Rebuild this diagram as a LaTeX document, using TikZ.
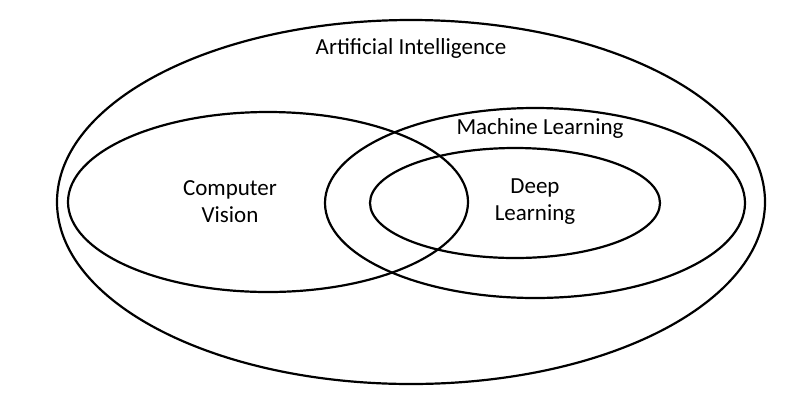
\documentclass[tikz,border=0pt]{standalone}
\usepackage{fontspec}
\setmainfont{Carlito}
\begin{document}
\begin{tikzpicture}[x=1pt,y=-1pt,
  ring/.style={draw=black,line width=2.2pt},
  lbl/.style={font=\fontsize{23}{27}\selectfont,align=center}]
\useasboundingbox (0,0) rectangle (800,400);
\draw[ring] (411,202) ellipse [x radius=354,y radius=182];
\draw[ring] (268,202) ellipse [x radius=200,y radius=90];
\draw[ring] (535,203) ellipse [x radius=210,y radius=95];
\draw[ring] (515,203) ellipse [x radius=145,y radius=55];
\node[lbl] (ai) at (411,48) {Artificial Intelligence};
\node[lbl] (ml) at (540,128) {Machine Learning};
\node[lbl] (cv) at (230,202) {Computer\\Vision};
\node[lbl] (dl) at (535,202) {Deep\\Learning};
\end{tikzpicture}
\end{document}
